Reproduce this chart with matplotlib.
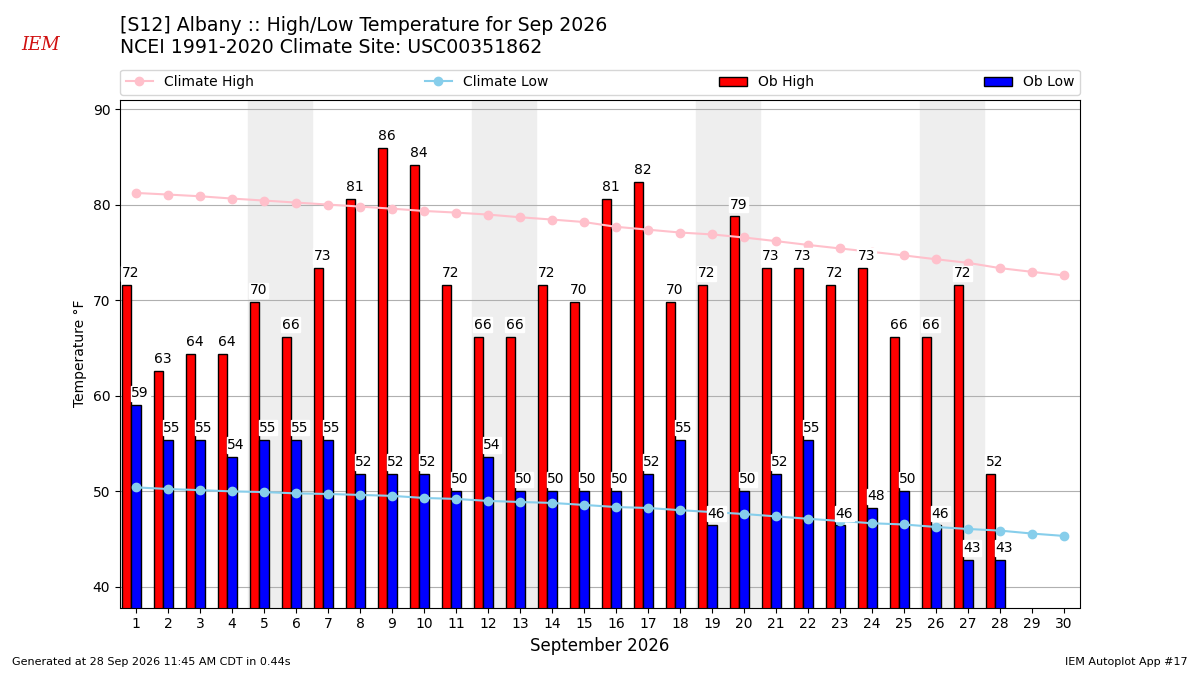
import numpy as np
import matplotlib
matplotlib.use("Agg")
import matplotlib.pyplot as plt

# observed values (F), days 1-28
days = np.arange(1, 29)
ob_high = [71.6, 62.6, 64.4, 64.4, 69.8, 66.2, 73.4, 80.6, 86.0, 84.2,
           71.6, 66.2, 66.2, 71.6, 69.8, 80.6, 82.4, 69.8, 71.6, 78.8,
           73.4, 73.4, 71.6, 73.4, 66.2, 66.2, 71.6, 51.8]
ob_low = [59.0, 55.4, 55.4, 53.6, 55.4, 55.4, 55.4, 51.8, 51.8, 51.8,
          50.0, 53.6, 50.0, 50.0, 50.0, 50.0, 51.8, 55.4, 46.4, 50.0,
          51.8, 55.4, 46.4, 48.2, 50.0, 46.4, 42.8, 42.8]

# climatology, days 1-30
clim_days = np.arange(1, 31)
clim_high = [81.25, 81.08, 80.9, 80.66, 80.45, 80.24, 80.03, 79.82, 79.6, 79.36,
             79.19, 78.98, 78.7, 78.46, 78.2, 77.7, 77.4, 77.1, 76.9, 76.58,
             76.2, 75.8, 75.43, 75.07, 74.7, 74.3, 73.92, 73.37, 72.98, 72.6]
clim_low = [50.39, 50.22, 50.1, 49.97, 49.9, 49.76, 49.7, 49.6, 49.5, 49.28,
            49.18, 48.97, 48.86, 48.76, 48.55, 48.33, 48.23, 48.0, 47.8, 47.6,
            47.35, 47.1, 46.87, 46.63, 46.5, 46.24, 46.03, 45.86, 45.55, 45.3]

weekends = [(5, 6), (12, 13), (19, 20), (26, 27)]


def main():
    fig = plt.figure(figsize=(12, 6.75), dpi=100)
    ax = fig.add_axes([0.1, 0.1, 0.8, 0.752])

    for start, end in weekends:
        ax.axvspan(start - 0.5, end + 0.5, color="#eeeeee", zorder=0)

    ax.plot(clim_days, clim_high, marker="o", color="pink", lw=1.5,
            label="Climate High", zorder=3)
    ax.plot(clim_days, clim_low, marker="o", color="skyblue", lw=1.5,
            label="Climate Low", zorder=3)

    width = 0.3
    ax.bar(days - width, ob_high, width=width, color="r", edgecolor="k",
           label="Ob High", zorder=2)
    ax.bar(days, ob_low, width=width, color="b", edgecolor="k",
           label="Ob Low", zorder=2)

    # value labels sit on a white box, above the climate lines
    box = dict(color="white", pad=0.5)
    for d, hi, lo in zip(days, ob_high, ob_low):
        ax.text(d - 1.5 * width, hi + 0.5, f"{hi:.0f}", ha="left",
                va="bottom", fontsize=10, zorder=4, bbox=box)
        ax.text(d - 0.5 * width, lo + 0.5, f"{lo:.0f}", ha="left",
                va="bottom", fontsize=10, zorder=4, bbox=box)

    ax.set_xlim(0.5, 30.5)
    ax.set_ylim(37.8, 91)
    ax.set_xticks(clim_days)
    ax.set_yticks(range(40, 91, 10))
    ax.set_axisbelow(True)
    ax.grid(axis="y", color="#b0b0b0", zorder=1)
    ax.tick_params(labelsize=10)
    ax.set_xlabel("September 2026", fontsize=12)
    ax.set_ylabel("Temperature \u00b0F", fontsize=10)

    ax.legend(loc="lower left", bbox_to_anchor=(0, 1.01, 1, 0.05),
              mode="expand", ncol=4, fontsize=10, borderaxespad=0)

    fig.text(0.1, 0.962, "[S12] Albany :: High/Low Temperature for Sep 2026",
             fontsize=13.6, va="center")
    fig.text(0.1, 0.929, "NCEI 1991-2020 Climate Site: USC00351862",
             fontsize=13.6, va="center")
    fig.text(0.018, 0.933, "IEM", color="#d01010", fontsize=13,
             family="serif", style="italic", va="center")

    fig.text(0.01, 0.015, "Generated at 28 Sep 2026 11:45 AM CDT in 0.44s",
             fontsize=8)
    fig.text(0.99, 0.015, "IEM Autoplot App #17", fontsize=8, ha="right")

    fig.savefig("out.png", dpi=100)


if __name__ == "__main__":
    main()
